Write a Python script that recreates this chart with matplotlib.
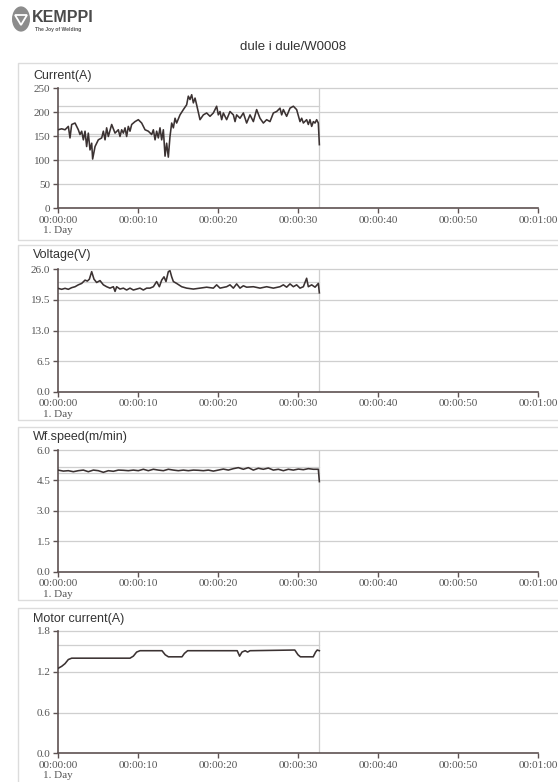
import matplotlib
matplotlib.use("Agg")
import matplotlib.pyplot as plt
from matplotlib.patches import Rectangle, Circle, Polygon

# ---- data (seconds, value) ----
current_t = [0.0, 0.46, 0.88, 1.29, 1.5, 1.71, 2.13, 2.54, 2.75, 2.96, 3.17, 3.38, 3.58,
             3.79, 4.0, 4.21, 4.33, 4.63, 5.04, 5.46, 5.67, 5.88, 6.08, 6.29, 6.71, 7.13,
             7.54, 7.75, 7.96, 8.17, 8.38, 8.58, 8.79, 9.0, 9.21, 9.63, 10.04, 10.46, 10.88,
             11.29, 11.71, 11.92, 12.13, 12.33, 12.54, 12.75, 12.96, 13.17, 13.38, 13.58,
             13.79, 14.0, 14.21, 14.42, 14.63, 14.83, 15.25, 15.67, 16.08, 16.29, 16.5,
             16.71, 16.92, 17.13, 17.33, 17.75, 18.17, 18.58, 19.0, 19.42, 19.83, 20.04,
             20.25, 20.46, 20.67, 21.08, 21.5, 21.92, 22.13, 22.33, 22.75, 23.17, 23.58,
             24.0, 24.42, 24.83, 25.25, 25.67, 26.08, 26.5, 26.92, 27.33, 27.75, 27.96,
             28.17, 28.58, 29.0, 29.42, 29.83, 30.25, 30.46, 30.67, 31.08, 31.29, 31.5,
             31.71, 31.92, 32.13, 32.33, 32.54, 32.67]
current_v = [163, 165, 163, 170, 146, 174, 177, 163, 153, 160, 142, 160, 128,
             156, 121, 135, 102, 128, 142, 146, 160, 142, 167, 149, 174, 156,
             163, 149, 163, 156, 167, 149, 170, 160, 174, 180, 184, 177, 163,
             160, 153, 163, 142, 160, 146, 167, 142, 163, 108, 135,
             106, 149, 177, 167, 187, 177, 194, 205, 215, 233, 226,
             236, 219, 229, 215, 184, 194, 198, 191, 198, 212, 194,
             201, 184, 198, 184, 201, 194, 180, 194, 187, 198, 177,
             194, 180, 205, 187, 177, 184, 180, 198, 201, 208, 194,
             205, 191, 208, 212, 205, 180, 187, 177, 184, 174, 184,
             170, 180, 177, 184, 177, 132]

voltage_t = [0.0, 0.46, 0.88, 1.29, 1.71, 2.13, 2.54, 2.96, 3.38, 3.67, 3.92, 4.21, 4.5,
             4.83, 5.25, 5.67, 6.08, 6.5, 6.92, 7.13, 7.33, 7.75, 8.17, 8.58, 9.0, 9.42,
             9.83, 10.25, 10.67, 11.08, 11.5, 11.92, 12.33, 12.67, 12.96, 13.25, 13.5,
             13.79, 14.0, 14.21, 14.42, 14.83, 15.46, 16.08, 16.92, 17.75, 18.58, 19.42,
             19.83, 20.25, 21.08, 21.5, 21.92, 22.33, 22.75, 23.17, 23.58, 24.42, 25.25,
             26.08, 26.92, 27.75, 28.17, 28.58, 29.0, 29.42, 29.83, 30.25, 30.67, 31.08,
             31.29, 31.71, 32.13, 32.54, 32.67]
voltage_v = [21.96, 21.75, 21.96, 21.75, 22.1, 22.3, 22.7, 23.0, 23.7, 23.5, 23.9, 25.5, 23.9,
             23.2, 23.6, 22.7, 22.3, 22.0, 22.3, 21.3, 22.3, 21.8, 22.0, 21.6, 22.0, 21.6,
             21.8, 22.0, 21.6, 22.0, 22.0, 22.3, 23.4, 22.3, 23.7, 24.4, 23.4,
             25.5, 25.7, 24.4, 23.4, 23.0, 22.3, 22.0, 21.8, 22.0, 22.2, 22.0,
             22.7, 22.0, 22.3, 22.7, 22.0, 22.9, 22.0, 22.5, 22.2, 22.3, 22.0,
             22.3, 22.0, 22.3, 22.7, 22.2, 22.9, 22.3, 22.7, 22.0, 22.3, 24.1,
             22.3, 22.7, 22.2, 23.0, 21.0]

wfs_t = [0.0, 0.67, 1.29, 1.92, 2.54, 3.17, 3.79, 4.42, 5.04, 5.67, 6.29, 6.92, 7.54,
         8.17, 8.79, 9.42, 10.04, 10.67, 11.29, 11.92, 12.54, 13.17, 13.79, 14.42,
         15.04, 15.67, 16.29, 16.92, 17.54, 18.17, 18.79, 19.42, 20.04, 20.67, 21.29,
         21.92, 22.54, 23.17, 23.79, 24.42, 25.04, 25.67, 26.29, 26.92, 27.54, 28.17,
         28.79, 29.42, 30.04, 30.67, 31.29, 31.92, 32.54, 32.67]
wfs_v = [5.01, 4.96, 4.98, 4.93, 4.98, 5.01, 4.93, 5.01, 4.98, 4.90, 4.98, 4.95, 5.01,
         5.00, 4.98, 5.01, 4.98, 5.05, 4.98, 5.05, 5.01, 4.98, 5.05, 5.01,
         4.98, 5.01, 4.98, 5.01, 5.00, 4.98, 5.01, 4.96, 5.01, 5.06, 5.01,
         5.08, 5.13, 5.05, 5.13, 5.01, 5.10, 5.05, 5.11, 5.01, 5.05, 4.98,
         5.05, 5.01, 5.06, 5.03, 5.08, 5.05, 5.05, 4.44]

motor_t = [0.0, 0.46, 0.88, 1.29, 1.71, 9.0, 9.42, 9.83, 10.25, 13.0, 13.4, 13.8, 15.5,
           15.8, 16.2, 22.4, 22.7, 23.0, 23.4, 23.7, 24.0, 29.6, 30.0, 30.3, 31.9,
           32.2, 32.4, 32.67]
motor_v = [1.25, 1.28, 1.32, 1.38, 1.40, 1.40, 1.43, 1.49, 1.51, 1.51, 1.45, 1.42, 1.42,
           1.47, 1.51, 1.51, 1.43, 1.49, 1.51, 1.49, 1.51, 1.52, 1.45, 1.42, 1.42,
           1.49, 1.52, 1.51]

titles = ["Current(A)", "Voltage(V)", "Wf.speed(m/min)", "Motor current(A)"]
yticks = [[0, 50, 100, 150, 200, 250],
          [0.0, 6.5, 13.0, 19.5, 26.0],
          [0.0, 1.5, 3.0, 4.5, 6.0],
          [0.0, 0.6, 1.2, 1.8]]
ytick_labels = [["0", "50", "100", "150", "200", "250"],
                ["0.0", "6.5", "13.0", "19.5", "26.0"],
                ["0.0", "1.5", "3.0", "4.5", "6.0"],
                ["0.0", "0.6", "1.2", "1.8"]]
limits = [[212, 154], [23.4, 21.0], [5.18, 4.88], [1.60]]
xticks = [0, 10, 20, 30, 40, 50, 60]
xtick_labels = ["00:00:00\n1. Day", "00:00:10", "00:00:20", "00:00:30",
                "00:00:40", "00:00:50", "00:01:00"]
header = "dule i dule/W0008"

W, H = 558, 782
fig = plt.figure(figsize=(W / 100, H / 100), dpi=100)
fig.patch.set_facecolor("white")


def fx(x):
    return x / W


def fy(y):
    return 1 - y / H


ink = "#3b3232"
spine_c = "#5e5252"
grid_c = "#cfcfcf"
frame_c = "#dcdcdc"
label_c = "#555555"

# logo + header
fig.patches.append(Circle((fx(21), fy(19)), 9 / W, transform=fig.transFigure,
                          facecolor="#8c8c8c", edgecolor="none"))
fig.patches.append(Polygon([(fx(15), fy(15)), (fx(27), fy(15)), (fx(21), fy(25))],
                           closed=True, transform=fig.transFigure,
                           facecolor="none", edgecolor="white", lw=1.3))
fig.text(fx(32), fy(18), "KEMPPI", fontsize=11.5, fontweight="bold", color="#4a4a4a",
         family="Liberation Sans", va="center", ha="left")
fig.text(fx(35), fy(29), "The Joy of Welding", fontsize=3.6, color="#555555",
         family="Liberation Sans", va="center", ha="left", fontweight="bold")
fig.text(fx(293), fy(47), header, fontsize=9.5, color="#333333",
         family="Liberation Sans", va="center", ha="center")

series = [(current_t, current_v), (voltage_t, voltage_v),
          (wfs_t, wfs_v), (motor_t, motor_v)]
frames = [(63, 240), (245, 420), (427, 600), (608, 790)]
axes_px = [(88, 208), (269.3, 391.7), (450, 571.7), (631, 753.3)]
title_y = [76, 255, 437, 619]

for i in range(4):
    top, bot = frames[i]
    fig.patches.append(Rectangle((fx(18), fy(bot)), 1.0, (bot - top) / H,
                                 transform=fig.transFigure, facecolor="none",
                                 edgecolor=frame_c, lw=1.0))
    atop, abot = axes_px[i]
    ax = fig.add_axes([fx(58), fy(abot), fx(538) - fx(58), (abot - atop) / H])
    ax.set_facecolor("none")
    t, v = series[i]
    ymax = yticks[i][-1]
    ax.set_xlim(0, 60)
    ax.set_ylim(0, ymax)

    for yv in yticks[i][1:]:
        ax.axhline(yv, xmin=0, xmax=1.04, color=grid_c, lw=0.9, clip_on=False, zorder=1)
    for lim in limits[i]:
        ax.plot([0, t[-1]], [lim, lim], color=grid_c, lw=0.9, zorder=1)
    ax.plot([t[-1], t[-1]], [0, ymax], color=grid_c, lw=0.9, zorder=1)

    ax.plot(t, v, color=ink, lw=1.15, zorder=3)

    for s in ["top", "right"]:
        ax.spines[s].set_visible(False)
    for s in ["left", "bottom"]:
        ax.spines[s].set_color(spine_c)
        ax.spines[s].set_linewidth(1.2)

    ax.set_xticks(xticks)
    ax.set_xticklabels(xtick_labels)
    ax.set_yticks(yticks[i])
    ax.set_yticklabels(ytick_labels[i])
    ax.tick_params(direction="out", length=3.5, width=1.0, color=spine_c,
                   labelcolor=label_c, labelsize=8, pad=2)
    for lab in ax.get_xticklabels() + ax.get_yticklabels():
        lab.set_family("Liberation Serif")

    fig.text(fx(33), fy(title_y[i]), titles[i], fontsize=9, color="#333333",
             family="Liberation Sans", va="center", ha="left")

fig.savefig("out.png", dpi=100, facecolor="white")
